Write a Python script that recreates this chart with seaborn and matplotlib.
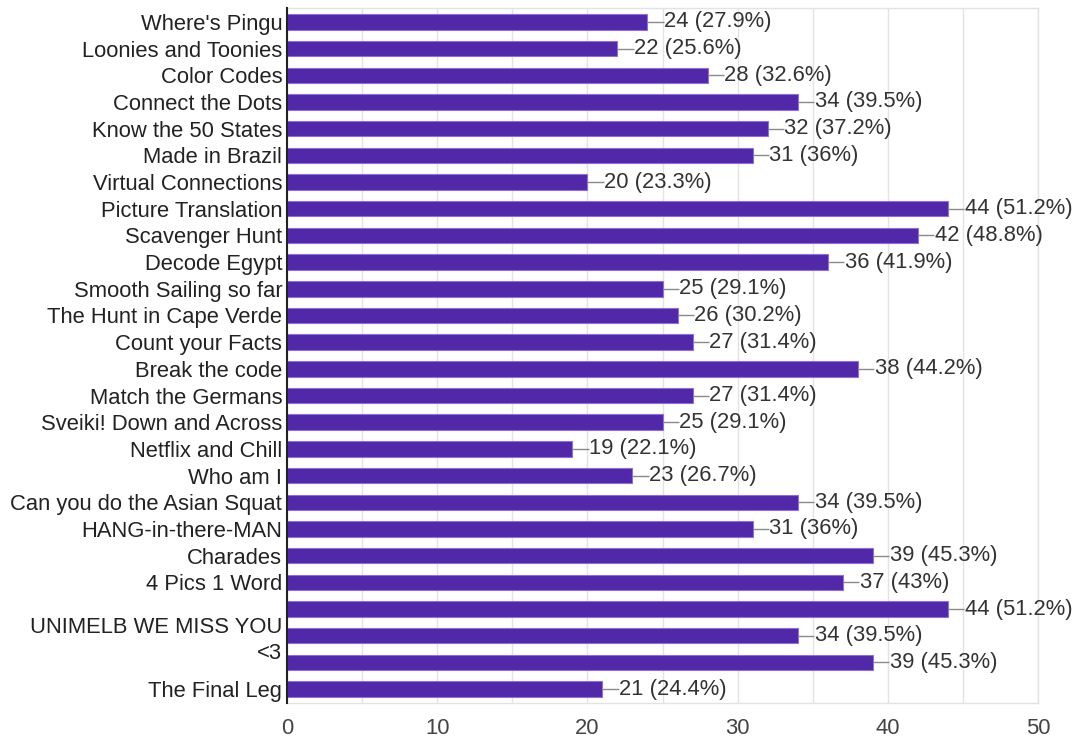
import matplotlib
matplotlib.use("Agg")
import matplotlib.pyplot as plt
import seaborn as sns
import pandas as pd

categories = [
    "Where's Pingu", "Loonies and Toonies", "Color Codes", "Connect the Dots",
    "Know the 50 States", "Made in Brazil", "Virtual Connections",
    "Picture Translation", "Scavenger Hunt", "Decode Egypt",
    "Smooth Sailing so far", "The Hunt in Cape Verde", "Count your Facts",
    "Break the code", "Match the Germans", "Sveiki! Down and Across",
    "Netflix and Chill", "Who am I", "Can you do the Asian Squat",
    "HANG-in-there-MAN", "Charades", "4 Pics 1 Word",
    "_blank_a", "UNIMELB WE MISS YOU\n<3", "_blank_b", "The Final Leg",
]
tick_labels = [c if not c.startswith("_blank") else "" for c in categories]
counts = [24, 22, 28, 34, 32, 31, 20, 44, 42, 36, 25, 26, 27, 38, 27, 25,
          19, 23, 34, 31, 39, 37, 44, 34, 39, 21]
percents = ["27.9", "25.6", "32.6", "39.5", "37.2", "36", "23.3", "51.2",
            "48.8", "41.9", "29.1", "30.2", "31.4", "44.2", "31.4", "29.1",
            "22.1", "26.7", "39.5", "36", "45.3", "43", "51.2", "39.5",
            "45.3", "24.4"]
x_ticks = [0, 10, 20, 30, 40, 50]

df = pd.DataFrame({"category": categories, "count": counts})

sns.set_theme(style="white")
plt.rcParams["font.family"] = ["Liberation Sans", "DejaVu Sans"]

FS = 15.8
W, H = 1076, 740
fig = plt.figure(figsize=(W / 100, H / 100), dpi=100)
ax = fig.add_axes([287 / W, (H - 703) / H, (1038 - 287) / W, (703 - 8) / H])

sns.barplot(data=df, y="category", x="count", orient="h", order=categories,
            color="#5028A8", saturation=1, width=0.58, ax=ax,
            edgecolor="#8F6FD6", linewidth=0.8, zorder=3)

ax.set_xlim(0, 50)
ax.set_ylim(len(categories) - 0.48, -0.52)
ax.set_xticks(x_ticks)
ax.set_xticks([5, 15, 25, 35, 45], minor=True)
ax.grid(axis="x", which="both", color="#e3e3e3", linewidth=1, zorder=0)
ax.set_xlabel("")
ax.set_ylabel("")
ax.set_yticks(range(len(categories)))
ax.set_yticklabels(tick_labels, fontsize=FS, color="#222222",
                   linespacing=1.32)
ax.tick_params(axis="y", length=0, pad=3.5)
ax.tick_params(axis="x", which="both", length=0, pad=11, labelsize=FS,
               labelcolor="#444444")

for side in ["top", "right", "bottom"]:
    ax.spines[side].set_color("#e3e3e3")
    ax.spines[side].set_linewidth(1)
ax.spines["left"].set_color("#222222")
ax.spines["left"].set_linewidth(1.5)
ax.spines["left"].set_zorder(5)

for i, (v, p) in enumerate(zip(counts, percents)):
    ax.plot([v, v + 1.1], [i, i], color="#8a8a8a", linewidth=1, zorder=4,
            solid_capstyle="butt")
    ax.text(v + 1.12, i, f"{v} ({p}%)", va="center", ha="left",
            fontsize=FS, color="#333333", zorder=4)

fig.savefig("out.png", dpi=100)
